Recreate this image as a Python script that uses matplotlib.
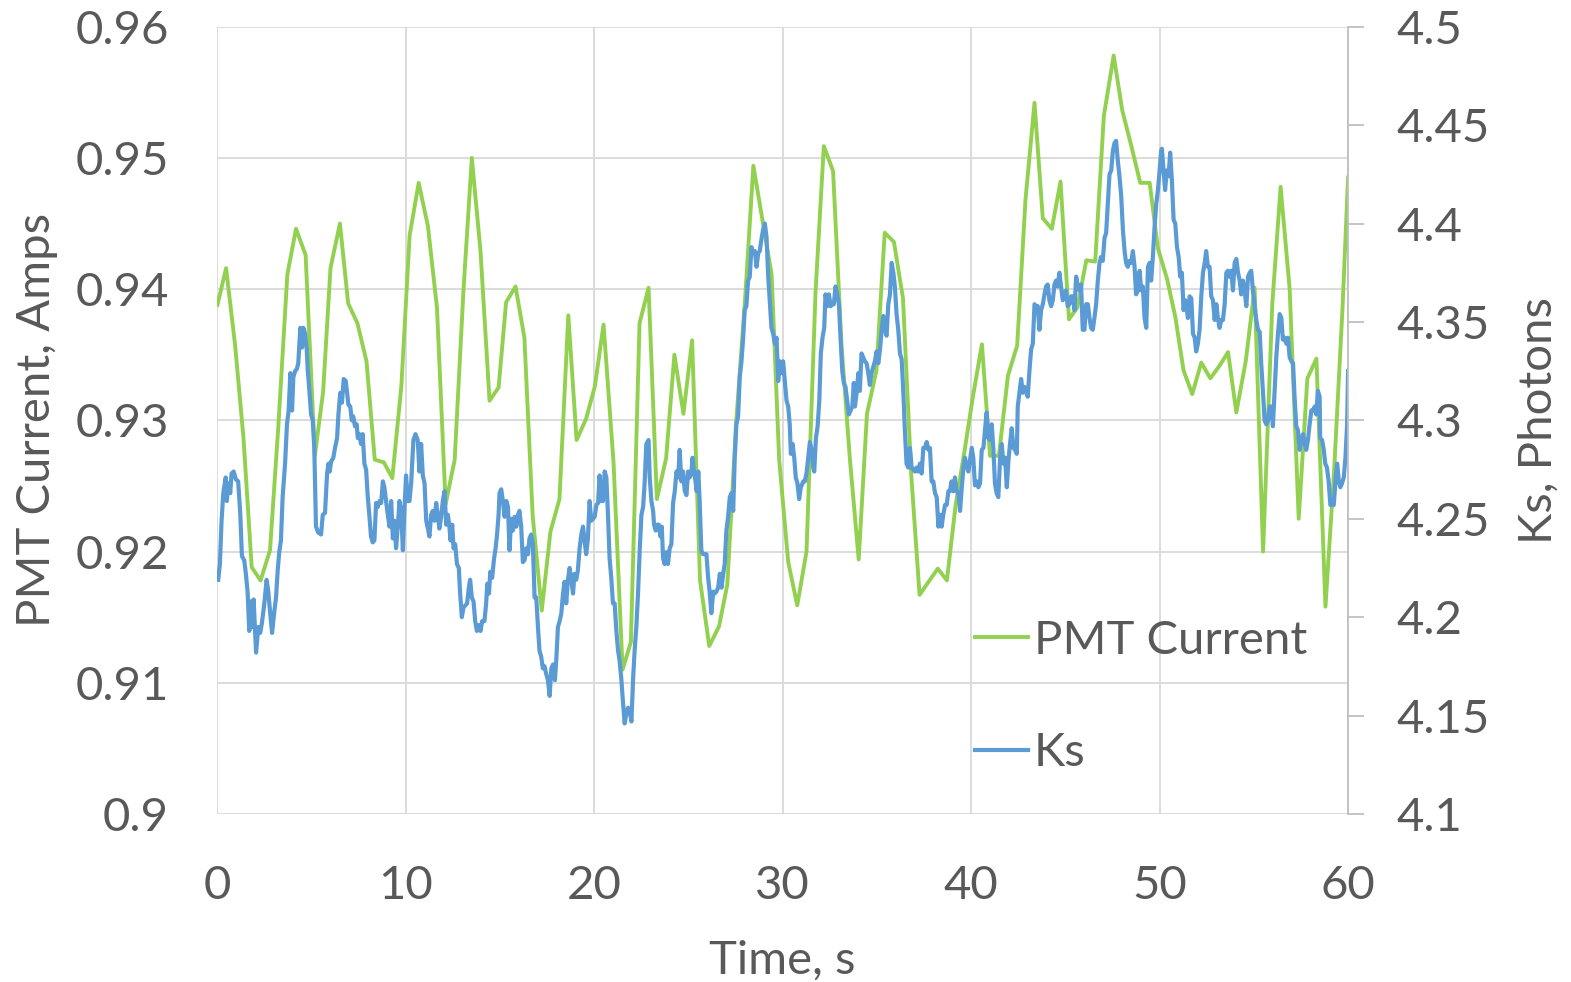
import matplotlib
matplotlib.use("Agg")
import matplotlib.pyplot as plt
from matplotlib.ticker import FuncFormatter, MultipleLocator

# PMT current, sampled about every half second
pmt_time = [
    0.0, 0.46, 0.94, 1.38, 1.82, 2.29, 2.79, 3.23, 3.71, 4.17,
    4.68, 5.17, 5.61, 6.0, 6.5, 6.94, 7.43, 7.91, 8.35, 8.83,
    9.28, 9.76, 10.2, 10.68, 11.17, 11.65, 12.11, 12.59, 13.06, 13.5,
    13.96, 14.44, 14.92, 15.32, 15.82, 16.29, 16.73, 17.21, 17.67, 18.15,
    18.62, 19.06, 19.56, 20.03, 20.49, 21.02, 21.5, 21.94, 22.4, 22.88,
    23.32, 23.81, 24.25, 24.73, 25.19, 25.61, 26.1, 26.62, 27.06, 27.52,
    28.0, 28.44, 28.93, 29.41, 29.81, 30.29, 30.77, 31.26, 31.74, 32.18,
    32.67, 33.12, 33.56, 34.03, 34.47, 34.97, 35.41, 35.9, 36.38, 36.82,
    37.26, 37.74, 38.23, 38.71, 39.17, 39.65, 40.09, 40.57, 41.0, 41.47,
    41.95, 42.44, 42.88, 43.36, 43.8, 44.28, 44.74, 45.19, 45.63, 46.11,
    46.58, 47.04, 47.56, 48.02, 48.5, 48.97, 49.47, 49.91, 50.39, 50.83,
    51.27, 51.73, 52.21, 52.69, 53.15, 53.63, 54.07, 54.57, 55.04, 55.49,
    55.98, 56.42, 56.9, 57.38, 57.84, 58.32, 58.8, 59.26, 59.7, 60.0,
]
pmt_amps = [
    0.9388, 0.9416, 0.9357, 0.9287, 0.9188, 0.9178, 0.9201, 0.9295, 0.9411, 0.9446,
    0.9426, 0.9273, 0.9322, 0.9416, 0.9450, 0.9389, 0.9374, 0.9345, 0.9270, 0.9268,
    0.9256, 0.9326, 0.9441, 0.9481, 0.9448, 0.9386, 0.9236, 0.9270, 0.9400, 0.9500,
    0.9429, 0.9315, 0.9325, 0.9390, 0.9402, 0.9363, 0.9227, 0.9155, 0.9215, 0.9240,
    0.9380, 0.9285, 0.9301, 0.9326, 0.9373, 0.9268, 0.9110, 0.9131, 0.9374, 0.9401,
    0.9240, 0.9271, 0.9350, 0.9305, 0.9361, 0.9178, 0.9128, 0.9143, 0.9175, 0.9297,
    0.9392, 0.9494, 0.9452, 0.9411, 0.9270, 0.9192, 0.9159, 0.9200, 0.9398, 0.9509,
    0.9490, 0.9357, 0.9271, 0.9194, 0.9305, 0.9338, 0.9443, 0.9436, 0.9393, 0.9258,
    0.9167, 0.9177, 0.9187, 0.9178, 0.9235, 0.9277, 0.9318, 0.9358, 0.9273, 0.9273,
    0.9334, 0.9357, 0.9468, 0.9542, 0.9454, 0.9446, 0.9482, 0.9377, 0.9386, 0.9422,
    0.9421, 0.9532, 0.9578, 0.9536, 0.9509, 0.9481, 0.9481, 0.9431, 0.9408, 0.9379,
    0.9338, 0.9320, 0.9344, 0.9332, 0.9341, 0.9352, 0.9306, 0.9345, 0.9401, 0.9200,
    0.9389, 0.9478, 0.9400, 0.9225, 0.9332, 0.9347, 0.9158, 0.9262, 0.9384, 0.9485,
]

# Ks photons, sampled much more often
ks_time = [
    0.04, 0.13, 0.22, 0.31, 0.44, 0.50, 0.57, 0.68, 0.75, 0.86,
    0.98, 1.10, 1.21, 1.30, 1.42, 1.51, 1.60, 1.69, 1.78, 1.87,
    1.92, 2.05, 2.17, 2.27, 2.36, 2.49, 2.61, 2.70, 2.80, 2.90,
    3.02, 3.11, 3.20, 3.28, 3.37, 3.46, 3.59, 3.69, 3.78, 3.87,
    3.96, 4.03, 4.12, 4.21, 4.29, 4.40, 4.49, 4.56, 4.66, 4.74,
    4.79, 4.88, 4.97, 5.06, 5.14, 5.23, 5.35, 5.50, 5.59, 5.71,
    5.82, 5.89, 5.96, 6.03, 6.15, 6.24, 6.35, 6.42, 6.52, 6.61,
    6.70, 6.81, 6.88, 6.95, 7.05, 7.13, 7.21, 7.30, 7.39, 7.45,
    7.53, 7.62, 7.71, 7.80, 7.89, 7.98, 8.06, 8.15, 8.24, 8.33,
    8.42, 8.51, 8.60, 8.69, 8.78, 8.86, 8.95, 9.04, 9.13, 9.22,
    9.31, 9.39, 9.48, 9.57, 9.66, 9.75, 9.84, 9.92, 10.01, 10.10,
    10.19, 10.28, 10.40, 10.51, 10.63, 10.72, 10.81, 10.90, 10.99, 11.08,
    11.17, 11.25, 11.34, 11.43, 11.52, 11.61, 11.70, 11.78, 11.87, 11.96,
    12.05, 12.14, 12.23, 12.31, 12.37, 12.46, 12.53, 12.62, 12.71, 12.81,
    12.88, 12.97, 13.06, 13.16, 13.25, 13.34, 13.41, 13.50, 13.59, 13.68,
    13.77, 13.88, 13.96, 14.05, 14.17, 14.26, 14.32, 14.41, 14.48, 14.58,
    14.67, 14.76, 14.83, 14.92, 14.97, 15.06, 15.15, 15.24, 15.33, 15.42,
    15.50, 15.59, 15.68, 15.77, 15.86, 15.95, 16.03, 16.12, 16.21, 16.30,
    16.39, 16.48, 16.56, 16.65, 16.74, 16.83, 16.92, 17.01, 17.09, 17.18,
    17.27, 17.36, 17.45, 17.54, 17.63, 17.72, 17.81, 17.91, 17.98, 18.07,
    18.16, 18.25, 18.34, 18.42, 18.51, 18.60, 18.69, 18.78, 18.87, 18.95,
    19.04, 19.13, 19.22, 19.31, 19.40, 19.48, 19.57, 19.66, 19.75, 19.84,
    19.93, 20.02, 20.11, 20.20, 20.28, 20.37, 20.46, 20.55, 20.64, 20.73,
    20.81, 20.90, 20.99, 21.08, 21.17, 21.26, 21.34, 21.43, 21.52, 21.61,
    21.70, 21.79, 21.88, 21.97, 22.06, 22.14, 22.23, 22.32, 22.41, 22.50,
    22.59, 22.67, 22.76, 22.88, 22.94, 23.03, 23.12, 23.17, 23.26, 23.33,
    23.42, 23.51, 23.58, 23.65, 23.73, 23.82, 23.91, 24.00, 24.09, 24.18,
    24.27, 24.36, 24.45, 24.53, 24.62, 24.71, 24.80, 24.89, 24.98, 25.06,
    25.15, 25.21, 25.27, 25.37, 25.43, 25.52, 25.59, 25.68, 25.77, 25.86,
    25.95, 26.04, 26.12, 26.21, 26.31, 26.39, 26.48, 26.57, 26.66, 26.75,
    26.84, 26.92, 27.01, 27.10, 27.19, 27.28, 27.37, 27.45, 27.54, 27.63,
    27.72, 27.81, 27.90, 27.98, 28.07, 28.16, 28.25, 28.34, 28.43, 28.52,
    28.61, 28.70, 28.78, 28.87, 28.96, 29.05, 29.14, 29.23, 29.31, 29.40,
    29.49, 29.58, 29.67, 29.76, 29.84, 29.93, 30.02, 30.11, 30.20, 30.29,
    30.37, 30.43, 30.52, 30.61, 30.69, 30.78, 30.87, 30.96, 31.09, 31.17,
    31.26, 31.35, 31.44, 31.53, 31.62, 31.67, 31.76, 31.85, 31.94, 32.02,
    32.11, 32.20, 32.27, 32.36, 32.45, 32.54, 32.63, 32.71, 32.80, 32.89,
    32.98, 33.07, 33.16, 33.24, 33.33, 33.42, 33.51, 33.60, 33.69, 33.77,
    33.83, 33.92, 34.01, 34.09, 34.18, 34.27, 34.36, 34.45, 34.54, 34.62,
    34.71, 34.80, 34.89, 34.98, 35.07, 35.16, 35.25, 35.34, 35.42, 35.51,
    35.60, 35.69, 35.78, 35.87, 35.95, 36.04, 36.13, 36.22, 36.31, 36.40,
    36.48, 36.57, 36.66, 36.75, 36.84, 36.93, 37.01, 37.10, 37.19, 37.28,
    37.37, 37.46, 37.55, 37.64, 37.73, 37.81, 37.90, 37.99, 38.08, 38.17,
    38.26, 38.34, 38.43, 38.52, 38.61, 38.70, 38.79, 38.87, 38.96, 39.05,
    39.14, 39.23, 39.32, 39.41, 39.50, 39.59, 39.67, 39.76, 39.85, 39.94,
    40.03, 40.11, 40.20, 40.29, 40.38, 40.47, 40.56, 40.65, 40.73, 40.82,
    40.91, 41.00, 41.09, 41.18, 41.26, 41.35, 41.44, 41.53, 41.62, 41.71,
    41.80, 41.89, 41.98, 42.06, 42.15, 42.24, 42.33, 42.42, 42.47, 42.56,
    42.65, 42.74, 42.83, 42.91, 43.00, 43.09, 43.18, 43.27, 43.36, 43.44,
    43.53, 43.62, 43.71, 43.80, 43.89, 43.97, 44.06, 44.15, 44.24, 44.33,
    44.42, 44.50, 44.59, 44.68, 44.77, 44.86, 44.95, 45.03, 45.12, 45.21,
    45.30, 45.39, 45.48, 45.57, 45.66, 45.75, 45.83, 45.92, 46.01, 46.10,
    46.19, 46.28, 46.36, 46.45, 46.54, 46.63, 46.72, 46.81, 46.89, 46.98,
    47.08, 47.16, 47.25, 47.34, 47.43, 47.52, 47.61, 47.69, 47.78, 47.87,
    47.96, 48.05, 48.14, 48.22, 48.31, 48.40, 48.49, 48.58, 48.67, 48.75,
    48.84, 48.94, 49.02, 49.11, 49.20, 49.29, 49.38, 49.47, 49.55, 49.64,
    49.73, 49.82, 49.91, 50.00, 50.08, 50.12, 50.21, 50.29, 50.38, 50.47,
    50.56, 50.65, 50.74, 50.83, 50.92, 51.01, 51.09, 51.18, 51.27, 51.36,
    51.45, 51.50, 51.59, 51.68, 51.77, 51.86, 51.94, 52.03, 52.12, 52.21,
    52.30, 52.39, 52.47, 52.56, 52.65, 52.74, 52.83, 52.92, 53.01, 53.09,
    53.18, 53.27, 53.36, 53.45, 53.54, 53.62, 53.71, 53.80, 53.89, 53.98,
    54.07, 54.16, 54.25, 54.33, 54.42, 54.51, 54.60, 54.69, 54.78, 54.86,
    54.95, 55.04, 55.13, 55.22, 55.31, 55.39, 55.48, 55.57, 55.66, 55.75,
    55.84, 55.93, 56.01, 56.10, 56.19, 56.28, 56.37, 56.46, 56.54, 56.63,
    56.72, 56.81, 56.90, 56.99, 57.08, 57.16, 57.25, 57.34, 57.43, 57.52,
    57.61, 57.70, 57.78, 57.87, 57.96, 58.05, 58.14, 58.23, 58.31, 58.40,
    58.49, 58.52, 58.62, 58.71, 58.79, 58.88, 58.97, 59.06, 59.15, 59.24,
    59.33, 59.42, 59.51, 59.59, 59.68, 59.77, 59.86, 59.95, 60.00,
]
ks_photons = [
    4.219, 4.227, 4.249, 4.263, 4.271, 4.259, 4.268, 4.263, 4.273, 4.274,
    4.270, 4.269, 4.253, 4.231, 4.229, 4.222, 4.213, 4.193, 4.208, 4.195,
    4.209, 4.182, 4.195, 4.192, 4.197, 4.207, 4.219, 4.213, 4.202, 4.192,
    4.203, 4.210, 4.224, 4.233, 4.239, 4.261, 4.278, 4.298, 4.305, 4.324,
    4.305, 4.322, 4.325, 4.326, 4.329, 4.347, 4.337, 4.347, 4.344, 4.336,
    4.326, 4.315, 4.303, 4.300, 4.286, 4.246, 4.243, 4.242, 4.252, 4.253,
    4.273, 4.278, 4.274, 4.279, 4.281, 4.286, 4.291, 4.303, 4.314, 4.309,
    4.321, 4.320, 4.314, 4.308, 4.307, 4.300, 4.302, 4.297, 4.298, 4.291,
    4.293, 4.288, 4.293, 4.278, 4.275, 4.261, 4.252, 4.241, 4.238, 4.239,
    4.258, 4.256, 4.259, 4.258, 4.269, 4.266, 4.259, 4.252, 4.246, 4.259,
    4.240, 4.249, 4.235, 4.246, 4.259, 4.254, 4.234, 4.254, 4.272, 4.259,
    4.259, 4.268, 4.290, 4.293, 4.290, 4.274, 4.288, 4.272, 4.268, 4.249,
    4.245, 4.241, 4.252, 4.254, 4.249, 4.258, 4.251, 4.245, 4.251, 4.259,
    4.264, 4.247, 4.252, 4.246, 4.239, 4.247, 4.235, 4.237, 4.227, 4.225,
    4.212, 4.200, 4.205, 4.206, 4.207, 4.215, 4.219, 4.210, 4.208, 4.198,
    4.193, 4.196, 4.193, 4.198, 4.198, 4.207, 4.217, 4.212, 4.223, 4.220,
    4.229, 4.235, 4.241, 4.252, 4.263, 4.265, 4.259, 4.251, 4.259, 4.256,
    4.234, 4.250, 4.244, 4.251, 4.246, 4.252, 4.254, 4.246, 4.228, 4.229,
    4.235, 4.232, 4.240, 4.242, 4.237, 4.210, 4.210, 4.195, 4.183, 4.180,
    4.174, 4.175, 4.171, 4.168, 4.160, 4.174, 4.176, 4.168, 4.178, 4.195,
    4.198, 4.202, 4.212, 4.218, 4.207, 4.219, 4.225, 4.219, 4.212, 4.222,
    4.219, 4.224, 4.235, 4.242, 4.246, 4.239, 4.232, 4.240, 4.259, 4.249,
    4.250, 4.251, 4.257, 4.258, 4.272, 4.259, 4.259, 4.274, 4.271, 4.251,
    4.230, 4.220, 4.207, 4.207, 4.193, 4.183, 4.178, 4.169, 4.157, 4.146,
    4.151, 4.154, 4.152, 4.147, 4.169, 4.183, 4.195, 4.212, 4.234, 4.252,
    4.256, 4.268, 4.288, 4.290, 4.271, 4.259, 4.254, 4.247, 4.244, 4.247,
    4.247, 4.241, 4.246, 4.230, 4.227, 4.233, 4.227, 4.235, 4.237, 4.258,
    4.264, 4.274, 4.271, 4.285, 4.269, 4.274, 4.264, 4.262, 4.274, 4.271,
    4.273, 4.281, 4.276, 4.269, 4.264, 4.274, 4.259, 4.234, 4.232, 4.232,
    4.232, 4.220, 4.213, 4.202, 4.213, 4.212, 4.213, 4.215, 4.222, 4.215,
    4.222, 4.227, 4.244, 4.251, 4.261, 4.263, 4.254, 4.280, 4.298, 4.302,
    4.322, 4.330, 4.342, 4.356, 4.358, 4.371, 4.373, 4.388, 4.385, 4.386,
    4.378, 4.385, 4.386, 4.392, 4.397, 4.400, 4.393, 4.373, 4.361, 4.347,
    4.344, 4.339, 4.342, 4.320, 4.330, 4.324, 4.330, 4.320, 4.310, 4.307,
    4.298, 4.283, 4.288, 4.281, 4.271, 4.268, 4.260, 4.266, 4.269, 4.269,
    4.273, 4.281, 4.289, 4.285, 4.276, 4.274, 4.291, 4.297, 4.310, 4.334,
    4.342, 4.347, 4.364, 4.358, 4.364, 4.358, 4.359, 4.359, 4.368, 4.364,
    4.359, 4.341, 4.325, 4.319, 4.317, 4.310, 4.303, 4.305, 4.307, 4.319,
    4.307, 4.314, 4.324, 4.315, 4.334, 4.332, 4.330, 4.329, 4.324, 4.318,
    4.324, 4.327, 4.330, 4.335, 4.329, 4.336, 4.346, 4.353, 4.346, 4.343,
    4.359, 4.364, 4.380, 4.375, 4.368, 4.354, 4.346, 4.334, 4.331, 4.314,
    4.295, 4.278, 4.276, 4.286, 4.276, 4.275, 4.274, 4.276, 4.274, 4.278,
    4.273, 4.286, 4.286, 4.289, 4.285, 4.286, 4.269, 4.269, 4.263, 4.261,
    4.246, 4.252, 4.246, 4.252, 4.257, 4.257, 4.264, 4.264, 4.269, 4.264,
    4.271, 4.264, 4.263, 4.254, 4.266, 4.276, 4.281, 4.277, 4.274, 4.280,
    4.286, 4.281, 4.267, 4.269, 4.266, 4.268, 4.285, 4.286, 4.295, 4.304,
    4.291, 4.290, 4.298, 4.285, 4.268, 4.263, 4.261, 4.280, 4.288, 4.278,
    4.281, 4.266, 4.280, 4.288, 4.296, 4.286, 4.285, 4.283, 4.307, 4.314,
    4.321, 4.314, 4.317, 4.315, 4.312, 4.325, 4.336, 4.339, 4.359, 4.358,
    4.358, 4.346, 4.356, 4.359, 4.364, 4.368, 4.369, 4.361, 4.358, 4.361,
    4.369, 4.371, 4.368, 4.375, 4.368, 4.361, 4.363, 4.366, 4.358, 4.359,
    4.363, 4.363, 4.356, 4.373, 4.368, 4.366, 4.369, 4.346, 4.346, 4.359,
    4.359, 4.352, 4.347, 4.346, 4.352, 4.359, 4.371, 4.380, 4.383, 4.381,
    4.393, 4.395, 4.410, 4.425, 4.427, 4.437, 4.441, 4.442, 4.432, 4.424,
    4.414, 4.397, 4.386, 4.380, 4.378, 4.381, 4.380, 4.386, 4.378, 4.364,
    4.366, 4.376, 4.366, 4.368, 4.352, 4.347, 4.378, 4.380, 4.371, 4.383,
    4.398, 4.410, 4.417, 4.427, 4.437, 4.438, 4.427, 4.417, 4.427, 4.424,
    4.436, 4.422, 4.402, 4.400, 4.388, 4.383, 4.373, 4.375, 4.356, 4.361,
    4.356, 4.352, 4.363, 4.362, 4.344, 4.342, 4.335, 4.339, 4.346, 4.363,
    4.375, 4.380, 4.386, 4.378, 4.378, 4.363, 4.361, 4.351, 4.359, 4.352,
    4.347, 4.351, 4.351, 4.359, 4.375, 4.376, 4.373, 4.376, 4.366, 4.380,
    4.382, 4.375, 4.371, 4.364, 4.371, 4.366, 4.358, 4.373, 4.375, 4.376,
    4.366, 4.358, 4.351, 4.346, 4.345, 4.329, 4.315, 4.300, 4.298, 4.300,
    4.307, 4.307, 4.297, 4.314, 4.332, 4.344, 4.354, 4.352, 4.341, 4.342,
    4.339, 4.342, 4.332, 4.330, 4.329, 4.312, 4.297, 4.295, 4.285, 4.291,
    4.293, 4.288, 4.285, 4.290, 4.298, 4.305, 4.305, 4.307, 4.303, 4.315,
    4.312, 4.291, 4.290, 4.285, 4.278, 4.276, 4.269, 4.257, 4.257, 4.257,
    4.269, 4.278, 4.269, 4.266, 4.268, 4.271, 4.281, 4.298, 4.325,
]

TEXT = "#595959"
GRID = "#D9D9D9"
AXIS = "#BFBFBF"
FS = 34

plt.rcParams["font.family"] = ["Lato", "DejaVu Sans"]

fig = plt.figure(figsize=(15.71, 9.82), dpi=100)
ax = fig.add_axes([0.1384, 0.1711, 0.7197, 0.8017])
ax2 = ax.twinx()

green, = ax.plot(pmt_time, pmt_amps, color="#92D050", lw=2.8, label="PMT Current")
blue, = ax2.plot(ks_time, ks_photons, color="#5B9BD5", lw=3.0, label="Ks")

ax.set_xlim(0, 60)
ax.set_ylim(0.9, 0.96)
ax2.set_ylim(4.1, 4.5)
ax.xaxis.set_major_locator(MultipleLocator(10))
ax.yaxis.set_major_locator(MultipleLocator(0.01))
ax2.yaxis.set_major_locator(MultipleLocator(0.05))

# plain labels: 0.9 rather than 0.90, 4.5 rather than 4.50
ax.yaxis.set_major_formatter(FuncFormatter(lambda v, _: f"{round(v, 2):g}"))
ax2.yaxis.set_major_formatter(FuncFormatter(lambda v, _: f"{round(v, 2):g}"))
ax.xaxis.set_major_formatter(FuncFormatter(lambda v, _: f"{v:g}"))

ax.grid(True, color=GRID, lw=1.3)
ax.set_axisbelow(True)
for s in ax.spines.values():
    s.set_visible(False)
for name, s in ax2.spines.items():
    s.set_visible(name == "right")
ax2.spines["right"].set_color(AXIS)
ax2.spines["right"].set_linewidth(1.3)

ax.tick_params(axis="both", length=0, labelsize=FS, labelcolor=TEXT)
ax.tick_params(axis="y", pad=35)
ax.tick_params(axis="x", pad=37)
ax2.tick_params(axis="y", length=11.5, width=1.3, color=AXIS, direction="out",
                labelsize=FS, labelcolor=TEXT, pad=23)

ax.set_xlabel("Time, s", fontsize=FS, color=TEXT, va="center")
ax.set_ylabel("PMT Current, Amps", fontsize=FS, color=TEXT, va="center", ha="center")
ax2.set_ylabel("Ks, Photons", fontsize=FS, color=TEXT, va="center", ha="center",
               rotation=90)
ax.xaxis.set_label_coords(0.4993, -0.186)
ax.yaxis.set_label_coords(-0.1597, 0.5)
ax2.yaxis.set_label_coords(1.169, 0.5)

ax2.legend(handles=[green, blue], loc="center left",
           bbox_to_anchor=(0.6206, 0.2902), bbox_transform=fig.transFigure,
           frameon=False, fontsize=FS, labelcolor=TEXT, borderpad=0,
           borderaxespad=0, handlelength=1.12, handletextpad=0.12,
           labelspacing=1.5)

fig.savefig("out.png", dpi=100)
